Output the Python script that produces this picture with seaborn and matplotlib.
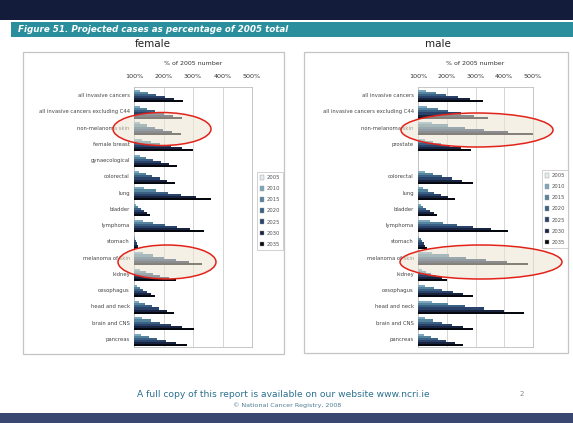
import matplotlib
matplotlib.use("Agg")
import matplotlib.pyplot as plt
import matplotlib.patches as mpatches
import seaborn as sns
import pandas as pd

# ---------------- data ----------------
years = ["2005", "2010", "2015", "2020", "2025", "2030", "2035"]

female_sites = ["all invasive cancers", "all invasive cancers excluding C44",
                "non-melanoma skin", "female breast", "gynaecological",
                "colorectal", "lung", "bladder", "lymphoma", "stomach",
                "melanoma of skin", "kidney", "oesophagus", "head and neck",
                "brain and CNS", "pancreas"]
female_values = [
    [100, 122, 147, 173, 204, 235, 267],
    [100, 121, 145, 171, 200, 231, 262],
    [100, 121, 144, 170, 198, 228, 258],
    [100, 126, 156, 188, 224, 262, 300],
    [100, 119, 141, 165, 191, 219, 247],
    [100, 118, 139, 162, 187, 213, 240],
    [100, 134, 173, 214, 261, 311, 360],
    [100, 107, 115, 124, 134, 145, 155],
    [100, 131, 166, 204, 246, 291, 336],
    [100, 102, 104, 107, 109, 112, 115],
    [100, 130, 165, 202, 244, 288, 332],
    [100, 119, 140, 163, 189, 217, 244],
    [100, 109, 120, 132, 145, 158, 172],
    [100, 118, 138, 160, 185, 211, 237],
    [100, 126, 157, 189, 225, 264, 302],
    [100, 123, 150, 178, 210, 244, 278],
]

male_sites = ["all invasive cancers", "all invasive cancers excluding C44",
              "non-melanoma skin", "prostate", " ",
              "colorectal", "lung", "bladder", "lymphoma", "stomach",
              "melanoma of skin", "kidney", "oesophagus", "head and neck",
              "brain and CNS", "pancreas"]
male_values = [
    [100, 129, 163, 199, 240, 282, 325],
    [100, 131, 168, 206, 250, 296, 342],
    [100, 150, 205, 262, 328, 412, 500],
    [100, 124, 151, 181, 213, 248, 283],
    None,
    [100, 125, 153, 184, 218, 254, 290],
    [100, 117, 136, 157, 181, 205, 230],
    [100, 109, 119, 129, 142, 154, 167],
    [100, 141, 187, 237, 293, 353, 412],
    [100, 104, 109, 114, 120, 126, 132],
    [100, 150, 207, 268, 337, 409, 482],
    [100, 113, 129, 145, 163, 183, 202],
    [100, 125, 154, 185, 220, 256, 293],
    [100, 148, 203, 262, 329, 399, 469],
    [100, 124, 152, 183, 218, 255, 292],
    [100, 121, 144, 170, 198, 228, 258],
]

tick_values = [100, 200, 300, 400, 500]
tick_labels = ["100%", "200%", "300%", "400%", "500%"]

palette = ["#e4ecf1", "#7da7be", "#55849f", "#3a6183", "#28426a", "#18233f", "#05080f"]


def to_long(sites, values):
    rows = []
    for s, vals in zip(sites, values):
        if vals is None:
            continue
        for y, v in zip(years, vals):
            rows.append({"site": s, "year": y, "value": v})
    return pd.DataFrame(rows)


df_f = to_long(female_sites, female_values)
df_m = to_long(male_sites, male_values)

# ---------------- figure ----------------
W, H = 573, 423
fig = plt.figure(figsize=(W / 100, H / 100), dpi=100)
fig.patch.set_facecolor("white")


def fx(x):
    return x / W


def fy(y):
    return 1 - y / H


def rect(x0, y0, x1, y1, **kw):
    r = mpatches.Rectangle((fx(x0), fy(y1)), (x1 - x0) / W, (y1 - y0) / H,
                           transform=fig.transFigure, **kw)
    fig.add_artist(r)
    return r


# slide bands
rect(0, 0, W, 20, facecolor="#131c3a", edgecolor="none", zorder=-5)
rect(0, 413, W, H, facecolor="#3a4770", edgecolor="none", zorder=-5)
rect(11, 22, W, 37, facecolor="#2a8e9c", edgecolor="none", zorder=-5)
fig.text(fx(18), fy(29.5), "Figure 51. Projected cases as percentage of 2005 total",
         color="white", fontsize=6.3, fontweight="bold", fontstyle="italic",
         va="center", ha="left")

# panel boxes
rect(23, 52, 284, 354, facecolor="white", edgecolor="#c4c4c4", linewidth=0.9, zorder=-4)
rect(304, 52, 568, 353, facecolor="white", edgecolor="#c4c4c4", linewidth=0.9, zorder=-4)
fig.text(fx(153), fy(44), "female", fontsize=7.5, ha="center", va="center", color="#222222")
fig.text(fx(438), fy(44), "male", fontsize=7.5, ha="center", va="center", color="#222222")

panels = [
    (df_f, female_sites, 134, 252, (257, 172)),
    (df_m, male_sites, 418, 533, (542, 170)),
]

for df, sites, x0, x1, legpos in panels:
    ax = fig.add_axes([fx(x0), fy(347), (x1 - x0) / W, (347 - 87) / H])
    sns.barplot(data=df, x="value", y="site", hue="year", order=sites,
                hue_order=years, palette=palette, orient="h", width=0.9,
                linewidth=0, saturation=1, ax=ax, legend=True, zorder=3)
    ax.set_xlim(100, 500)
    ax.set_xticks(tick_values)
    ax.set_xticklabels(tick_labels)
    ax.xaxis.tick_top()
    ax.xaxis.set_label_position("top")
    ax.set_xlabel("% of 2005 number", fontsize=4.5, color="#333333", labelpad=6)
    ax.set_ylabel("")
    ax.tick_params(axis="x", length=0, labelsize=4.6, pad=6, colors="#333333")
    ax.tick_params(axis="y", length=0, labelsize=3.8, pad=3, colors="#444444")
    ax.grid(axis="x", color="#cfcfcf", linewidth=0.6, zorder=0)
    ax.set_axisbelow(True)
    for sp in ax.spines.values():
        sp.set_color("#bdbdbd")
        sp.set_linewidth(0.6)
    handles, labels = ax.get_legend_handles_labels()
    ax.get_legend().remove()
    leg = fig.legend(handles, labels, loc="upper left",
                     bbox_to_anchor=(fx(legpos[0]), fy(legpos[1])),
                     bbox_transform=fig.transFigure, fontsize=3.8,
                     frameon=True, fancybox=False, handlelength=0.8,
                     handleheight=0.9, handletextpad=0.4, labelspacing=1.15,
                     borderpad=0.6, borderaxespad=0)
    leg.get_frame().set_edgecolor("#bdbdbd")
    leg.get_frame().set_linewidth(0.6)
    for h in leg.legend_handles:
        h.set_edgecolor("#999999")
        h.set_linewidth(0.3)
    for t in leg.get_texts():
        t.set_color("#555555")

# highlight ellipses
for cx, cy, w, h in [(162, 129, 98, 33), (167, 262, 98, 34),
                     (477, 130, 152, 34), (481, 262, 162, 34)]:
    e = mpatches.Ellipse((fx(cx), fy(cy)), w / W, h / H, transform=fig.transFigure,
                         facecolor="#ece5d3", alpha=0.55, edgecolor="none", zorder=5)
    fig.add_artist(e)
    e2 = mpatches.Ellipse((fx(cx), fy(cy)), w / W, h / H, transform=fig.transFigure,
                          facecolor="none", edgecolor="#e2231a", linewidth=1.1, zorder=6)
    fig.add_artist(e2)

# footer
fig.text(fx(283), fy(394), "A full copy of this report is available on our website www.ncri.ie",
         fontsize=6.6, color="#2b6f8f", ha="center", va="center")
fig.text(fx(287), fy(405), "© National Cancer Registry, 2008",
         fontsize=4.6, color="#4f7f92", ha="center", va="center")
fig.text(fx(522), fy(394), "2", fontsize=5, color="#888888", ha="center", va="center")

fig.savefig("out.png", dpi=100)
